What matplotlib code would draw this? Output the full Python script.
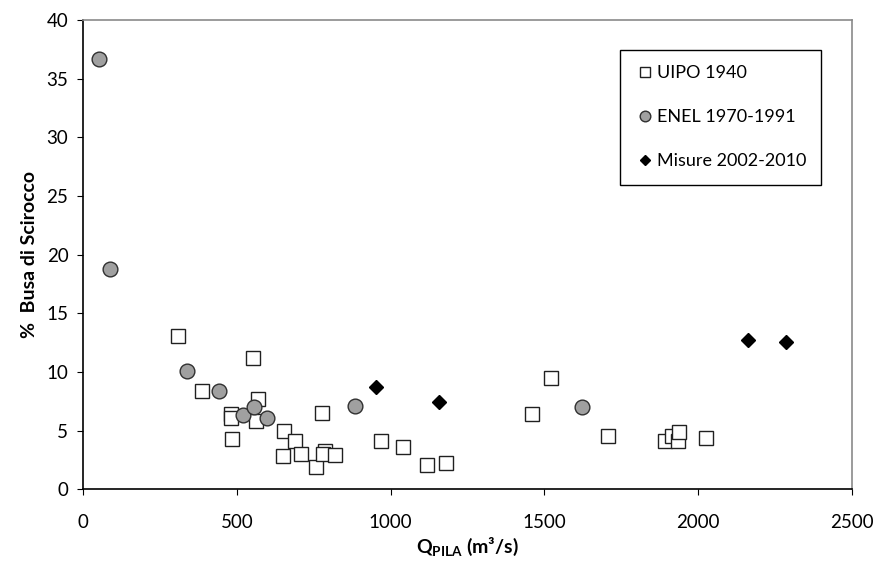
import matplotlib
matplotlib.use('Agg')
import matplotlib.pyplot as plt

plt.rcParams.update({
    'font.family': ['Lato', 'DejaVu Sans'],
    'font.size': 13,
    'mathtext.fontset': 'custom',
    'mathtext.rm': 'Lato',
    'mathtext.bf': 'Lato:bold',
})

# UIPO 1940 survey
uipo_q = [310, 552, 386, 569, 482, 480, 564, 778, 484, 653, 688, 650, 708, 759, 787,
          781, 820, 970, 1039, 1117, 1181, 1459, 1520, 1707, 1892, 1914, 1935, 1938, 2024]
uipo_pct = [13.1, 11.2, 8.4, 7.7, 6.4, 6.1, 5.85, 6.5, 4.3, 5.0, 4.1, 2.8, 3.05, 1.9, 3.3,
            3.0, 2.95, 4.1, 3.6, 2.05, 2.2, 6.45, 9.45, 4.5, 4.1, 4.5, 4.1, 4.85, 4.4]

# ENEL 1970-1991
enel_q = [51, 88, 338, 443, 521, 555, 598, 885, 1623]
enel_pct = [36.7, 18.8, 10.1, 8.35, 6.35, 7.05, 6.05, 7.1, 7.05]

# field measurements 2002-2010
mis_q = [953, 1157, 2161, 2285]
mis_pct = [8.75, 7.4, 12.75, 12.55]

fig = plt.figure(figsize=(8.77, 5.72), dpi=100)
ax = fig.add_axes([0.0946, 0.1446, 0.8769, 0.8204])

ax.plot(uipo_q, uipo_pct, linestyle='none', marker='s', markersize=9.8,
        markerfacecolor='white', markeredgecolor='#202020', markeredgewidth=1.0,
        label='UIPO 1940')
ax.plot(enel_q, enel_pct, linestyle='none', marker='o', markersize=10.6,
        markerfacecolor='#a0a0a0', markeredgecolor='#303030', markeredgewidth=1.0,
        label='ENEL 1970-1991')
ax.plot(mis_q, mis_pct, linestyle='none', marker='D', markersize=7.2,
        markerfacecolor='black', markeredgecolor='black', label='Misure 2002-2010')

ax.set_xlim(0, 2500)
ax.set_ylim(0, 40)
ax.set_xticks(range(0, 2501, 500))
ax.set_yticks(range(0, 41, 5))
ax.tick_params(direction='out', length=4.5, width=0.8, labelsize=13.5, pad=6)
ax.tick_params(axis='x', pad=13)

for side in ['top', 'right']:
    ax.spines[side].set_color('#8a8a8a')
    ax.spines[side].set_linewidth(1.2)
for side in ['left', 'bottom']:
    ax.spines[side].set_color('black')
    ax.spines[side].set_linewidth(1.2)

ax.set_xlabel(r'$\mathbf{Q_{PILA}}$ (m³/s)', fontweight='bold', fontsize=14, labelpad=4)
ax.set_ylabel('%  Busa di Scirocco', fontweight='bold', fontsize=14, labelpad=6)

leg = ax.legend(loc='upper right', bbox_to_anchor=(0.96, 0.936), borderaxespad=0,
                fancybox=False, edgecolor='black', framealpha=1, fontsize=13,
                labelspacing=1.55, handletextpad=0.1, handlelength=1.1,
                borderpad=0.85, markerscale=0.72)
leg.get_frame().set_linewidth(1.0)

fig.savefig('out.png', dpi=100)
